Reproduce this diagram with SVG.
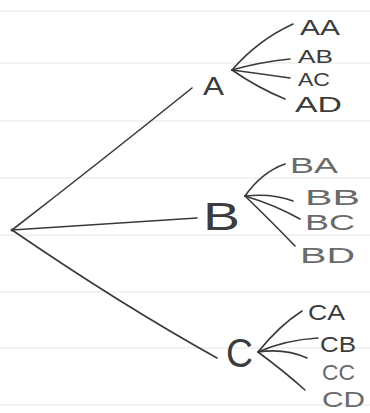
<svg xmlns="http://www.w3.org/2000/svg" width="370" height="413" viewBox="0 0 370 413">
<style>
.rule{stroke:#e6e6e6;stroke-width:1.2}
.edge{fill:none;stroke:#3a3a3a;stroke-width:1.6;stroke-linecap:round}
.lbl{font-family:"Liberation Sans","DejaVu Sans",sans-serif;fill:#3c3c3c}
.s{font-size:22px}
.pale{fill:#6a6a6a}
</style>
<rect width="370" height="413" fill="#ffffff"/>
<g id="paper">
<line class="rule" x1="0" y1="11" x2="370" y2="11"/>
<line class="rule" x1="0" y1="63" x2="370" y2="63"/>
<line class="rule" x1="0" y1="121" x2="370" y2="121"/>
<line class="rule" x1="0" y1="178" x2="370" y2="178"/>
<line class="rule" x1="0" y1="235" x2="370" y2="235"/>
<line class="rule" x1="0" y1="292" x2="370" y2="292"/>
<line class="rule" x1="0" y1="348" x2="370" y2="348"/>
<line class="rule" x1="0" y1="405" x2="370" y2="405"/>
</g>
<g id="connectors">
<path class="edge" d="M12,230 Q100,162 192,88"/>
<path class="edge" d="M12,230 Q110,224 197,218"/>
<path class="edge" d="M12,230 Q120,304 217,358"/>
<path class="edge" d="M232,70 Q258,40 293,24"/>
<path class="edge" d="M232,70 Q260,62 290,59"/>
<path class="edge" d="M232,70 Q262,74 290,78"/>
<path class="edge" d="M232,70 Q258,88 285,99"/>
<path class="edge" d="M245,196 Q262,172 285,164"/>
<path class="edge" d="M245,196 Q272,193 293,201"/>
<path class="edge" d="M245,196 Q275,205 300,219"/>
<path class="edge" d="M245,196 Q272,222 295,246"/>
<path class="edge" d="M258,352 Q280,325 302,311"/>
<path class="edge" d="M258,352 Q285,340 318,338"/>
<path class="edge" d="M258,352 Q285,348 307,358"/>
<path class="edge" d="M258,352 Q285,372 305,390"/>
</g>
<g id="root"><circle cx="12" cy="230" r="1.5" fill="#3a3a3a"/></g>
<g id="A"><text class="lbl" x="203" y="95" font-size="25" textLength="21" lengthAdjust="spacingAndGlyphs">A</text></g>
<g id="B"><text class="lbl" x="203" y="230" font-size="38" textLength="37" lengthAdjust="spacingAndGlyphs">B</text></g>
<g id="C"><text class="lbl" x="226" y="367" font-size="41" textLength="27" lengthAdjust="spacingAndGlyphs">C</text></g>
<g id="AA"><text class="lbl s" x="300" y="35" font-size="26" textLength="40" lengthAdjust="spacingAndGlyphs">AA</text></g>
<g id="AB"><text class="lbl" x="298" y="63" font-size="19" textLength="35" lengthAdjust="spacingAndGlyphs">AB</text></g>
<g id="AC"><text class="lbl" x="298" y="86" font-size="19" textLength="32" lengthAdjust="spacingAndGlyphs">AC</text></g>
<g id="AD"><text class="lbl s" x="295" y="112" textLength="47" lengthAdjust="spacingAndGlyphs">AD</text></g>
<g id="BA"><text class="lbl s pale" x="290" y="173" font-size="26" textLength="48" lengthAdjust="spacingAndGlyphs">BA</text></g>
<g id="BB"><text class="lbl s pale" x="305" y="205" font-size="26" textLength="55" lengthAdjust="spacingAndGlyphs">BB</text></g>
<g id="BC"><text class="lbl s pale" x="305" y="230" font-size="26" textLength="50" lengthAdjust="spacingAndGlyphs">BC</text></g>
<g id="BD"><text class="lbl s pale" x="300" y="263" font-size="26" textLength="55" lengthAdjust="spacingAndGlyphs">BD</text></g>
<g id="CA"><text class="lbl s" x="308" y="320" textLength="37" lengthAdjust="spacingAndGlyphs">CA</text></g>
<g id="CB"><text class="lbl s" x="320" y="352" font-size="26" textLength="36" lengthAdjust="spacingAndGlyphs">CB</text></g>
<g id="CC"><text class="lbl s pale" x="322" y="380" font-size="26" textLength="33" lengthAdjust="spacingAndGlyphs">CC</text></g>
<g id="CD"><text class="lbl s pale" x="322" y="407" font-size="25" textLength="43" lengthAdjust="spacingAndGlyphs">CD</text></g>
</svg>
